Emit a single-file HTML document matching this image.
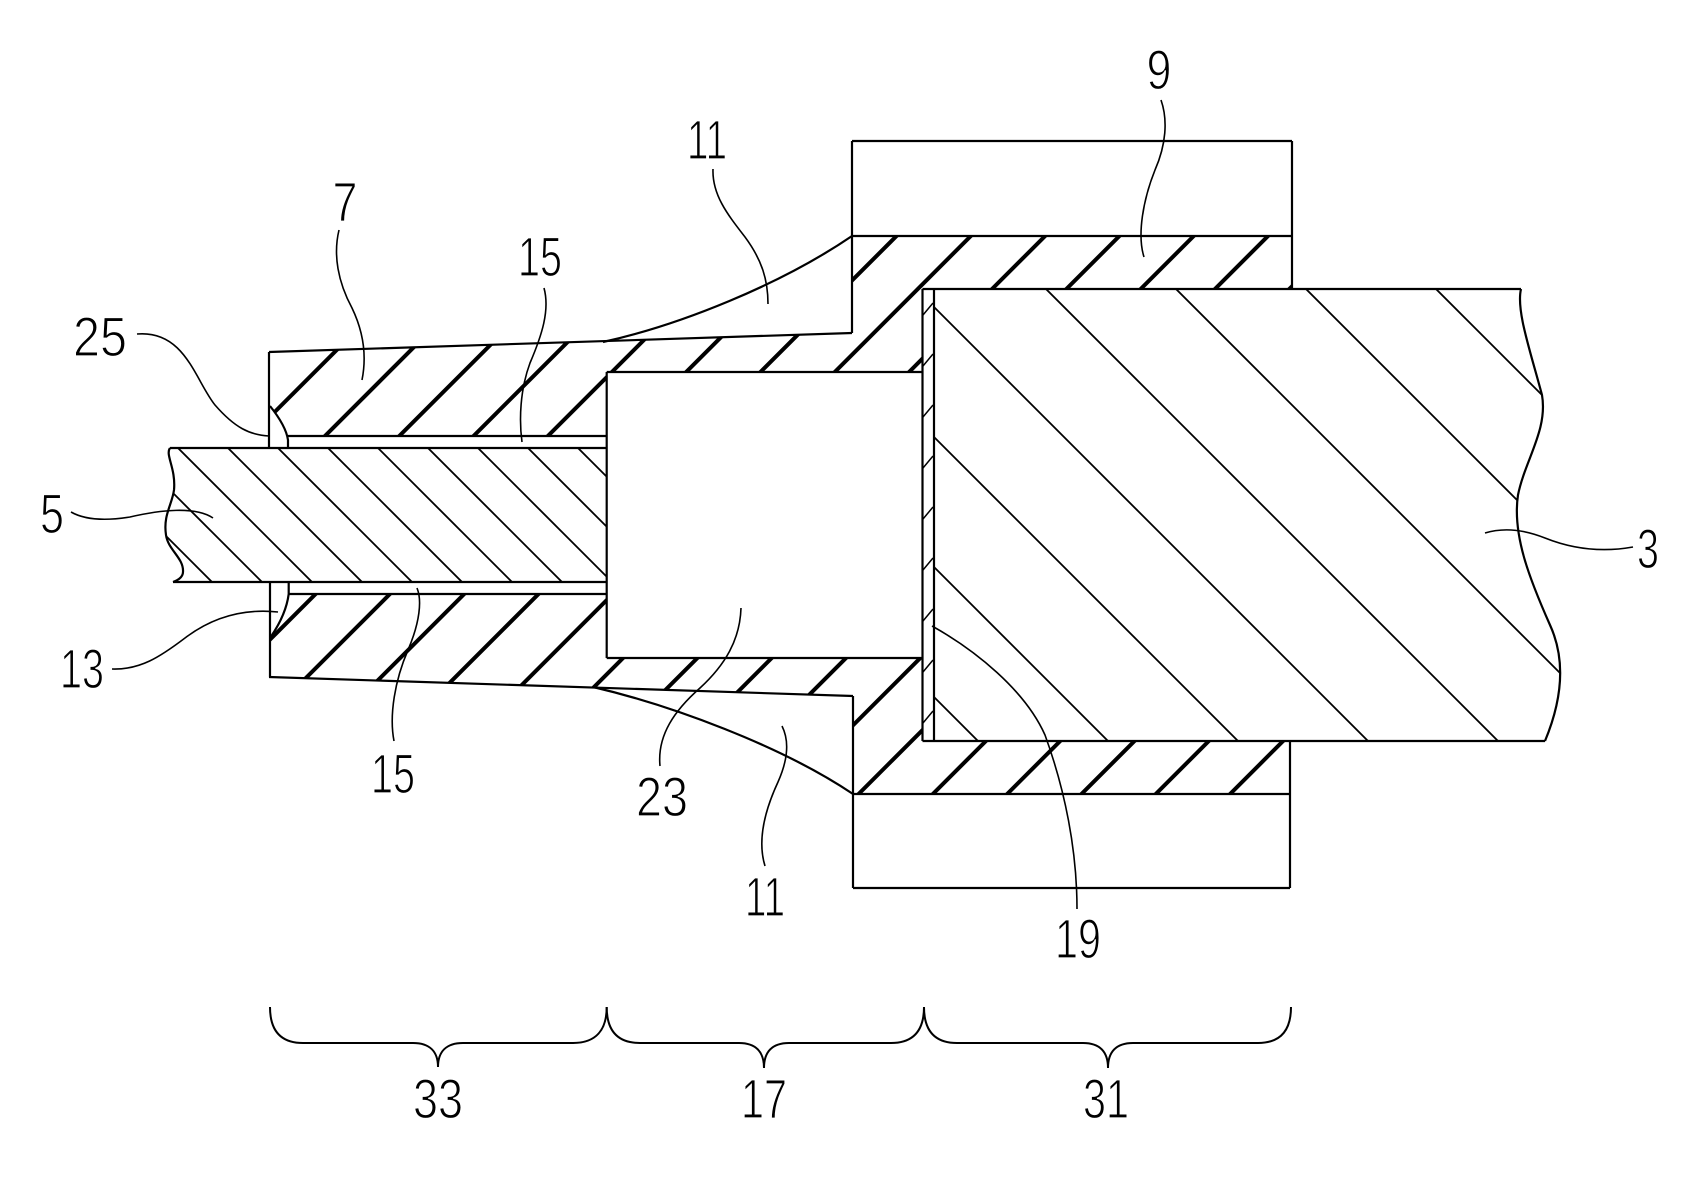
<!DOCTYPE html>
<html>
<head>
<meta charset="utf-8">
<style>
  html, body { margin: 0; padding: 0; background: #fff; }
  body { width: 1698px; height: 1182px; overflow: hidden; }
  svg { display: block; }
  text { font-family: "Liberation Sans", "DejaVu Sans", sans-serif; font-size: 56px; fill: #000; stroke: #fff; stroke-width: 1.3px; }
</style>
</head>
<body>
<svg width="1698" height="1182" viewBox="0 0 1698 1182" xmlns="http://www.w3.org/2000/svg">
  <defs>
    <clipPath id="ins">
      <path d="M269,352 L852,333 L852,236 L1292,236 L1292,289 L922.5,289 L922.5,372 L606.7,372 L606.7,436 L288,436 Q286,426 270,406 L269,406 Z"/>
      <path d="M269,677 L853,696 L853,794 L1290,794 L1290,741 L922.5,741 L922.5,658 L606.7,658 L606.7,594 L288.7,594 Q286,615 270,638 Z"/>
    </clipPath>
    <clipPath id="c3">
      <path d="M934,289 L1521,289 C1516,310 1530,350 1542,395 C1548,430 1525,460 1518,495 C1512,535 1530,580 1550,625 C1566,660 1562,700 1545,741 L934,741 Z"/>
    </clipPath>
    <clipPath id="c5">
      <path d="M170,448 L606.7,448 L606.7,582 L173,582 C176,581 183,578 183,572 C184,558 168,550 166,535 C163,515 172,505 174,490 C176,468 165,455 170,448 Z"/>
    </clipPath>
  </defs>

  <rect width="1698" height="1182" fill="#fff"/>

  <!-- insulation thick hatching -->
  <g clip-path="url(#ins)" stroke="#000" stroke-width="4" fill="none">
    <line x1="586.7" y1="100" x2="-213.3" y2="900"/>
    <line x1="661" y1="100" x2="-139" y2="900"/>
    <line x1="735.3" y1="100" x2="-64.7" y2="900"/>
    <line x1="809.6" y1="100" x2="9.6" y2="900"/>
    <line x1="883.9" y1="100" x2="83.9" y2="900"/>
    <line x1="958.2" y1="100" x2="158.2" y2="900"/>
    <line x1="1032.5" y1="100" x2="232.5" y2="900"/>
    <line x1="1106.8" y1="100" x2="306.8" y2="900"/>
    <line x1="1181.1" y1="100" x2="381.1" y2="900"/>
    <line x1="1255.4" y1="100" x2="455.4" y2="900"/>
    <line x1="1329.7" y1="100" x2="529.7" y2="900"/>
    <line x1="1404" y1="100" x2="604" y2="900"/>
    <line x1="1478.3" y1="100" x2="678.3" y2="900"/>
    <line x1="1552.6" y1="100" x2="752.6" y2="900"/>
    <line x1="1626.9" y1="100" x2="826.9" y2="900"/>
    <line x1="1701.2" y1="100" x2="901.2" y2="900"/>
    <line x1="1775.5" y1="100" x2="975.5" y2="900"/>
    <line x1="1849.8" y1="100" x2="1049.8" y2="900"/>
    <line x1="1924.1" y1="100" x2="1124.1" y2="900"/>
  </g>

  <!-- conductor 3 hatching -->
  <g clip-path="url(#c3)" stroke="#000" stroke-width="1.8" fill="none">
    <line x1="437" y1="200" x2="1037" y2="800"/>
    <line x1="567" y1="200" x2="1167" y2="800"/>
    <line x1="697" y1="200" x2="1297" y2="800"/>
    <line x1="827" y1="200" x2="1427" y2="800"/>
    <line x1="957" y1="200" x2="1557" y2="800"/>
    <line x1="1087" y1="200" x2="1687" y2="800"/>
    <line x1="1217" y1="200" x2="1817" y2="800"/>
    <line x1="1347" y1="200" x2="1947" y2="800"/>
  </g>

  <!-- conductor 5 hatching -->
  <g clip-path="url(#c5)" stroke="#000" stroke-width="1.8" fill="none">
    <line x1="30" y1="400" x2="280" y2="650"/>
    <line x1="80" y1="400" x2="330" y2="650"/>
    <line x1="130" y1="400" x2="380" y2="650"/>
    <line x1="180" y1="400" x2="430" y2="650"/>
    <line x1="230" y1="400" x2="480" y2="650"/>
    <line x1="280" y1="400" x2="530" y2="650"/>
    <line x1="330" y1="400" x2="580" y2="650"/>
    <line x1="380" y1="400" x2="630" y2="650"/>
    <line x1="430" y1="400" x2="680" y2="650"/>
    <line x1="480" y1="400" x2="730" y2="650"/>
    <line x1="530" y1="400" x2="780" y2="650"/>
  </g>

  <!-- layer 19 ticks -->
  <g stroke="#000" stroke-width="1.5" fill="none">
    <line x1="923" y1="315" x2="933" y2="303"/>
    <line x1="923" y1="366" x2="933" y2="354"/>
    <line x1="923" y1="417" x2="933" y2="405"/>
    <line x1="923" y1="468" x2="933" y2="456"/>
    <line x1="923" y1="519" x2="933" y2="507"/>
    <line x1="923" y1="570" x2="933" y2="558"/>
    <line x1="923" y1="621" x2="933" y2="609"/>
    <line x1="923" y1="672" x2="933" y2="660"/>
    <line x1="923" y1="723" x2="933" y2="711"/>
  </g>

  <!-- outlines -->
  <g stroke="#000" stroke-width="2.2" fill="none" stroke-linejoin="miter">
    <line x1="269" y1="352" x2="852" y2="333"/>
    <line x1="269" y1="677" x2="853" y2="696"/>
    <line x1="269" y1="352" x2="269" y2="448"/>
    <line x1="270" y1="582" x2="270" y2="677"/>
    <path d="M270,406 Q286,426 288,440 L288,448"/>
    <path d="M288.7,582 L288.7,594 Q286,615 270,638"/>
    <line x1="288" y1="436" x2="606.7" y2="436"/>
    <line x1="288.7" y1="594" x2="606.7" y2="594"/>
    <line x1="170" y1="448" x2="606.7" y2="448"/>
    <line x1="173" y1="582" x2="606.7" y2="582"/>
    <path d="M170,448 C165,455 176,468 174,490 C172,505 163,515 166,535 C168,550 184,558 183,572 C183,578 176,581 173,582"/>
    <line x1="606.7" y1="372" x2="922.5" y2="372"/>
    <line x1="606.7" y1="372" x2="606.7" y2="658"/>
    <line x1="606.7" y1="658" x2="922.5" y2="658"/>
    <line x1="852" y1="141" x2="852" y2="333"/>
    <line x1="852" y1="141" x2="1292" y2="141"/>
    <line x1="1292" y1="141" x2="1292" y2="289"/>
    <line x1="852" y1="236" x2="1292" y2="236"/>
    <line x1="853" y1="696" x2="853" y2="888"/>
    <line x1="853" y1="888" x2="1290" y2="888"/>
    <line x1="1290" y1="741" x2="1290" y2="888"/>
    <line x1="853" y1="794" x2="1290" y2="794"/>
    <line x1="922.5" y1="289" x2="922.5" y2="741"/>
    <line x1="934" y1="289" x2="934" y2="741"/>
    <line x1="922.5" y1="289" x2="1521" y2="289"/>
    <line x1="922.5" y1="741" x2="1545" y2="741"/>
    <path d="M1521,289 C1516,310 1530,350 1542,395 C1548,430 1525,460 1518,495 C1512,535 1530,580 1550,625 C1566,660 1562,700 1545,741"/>
    <path d="M603,342 C680,325 780,285 852,236"/>
    <path d="M593,687 C670,705 780,745 853,794"/>
  </g>

  <!-- leaders -->
  <g stroke="#000" stroke-width="1.6" fill="none">
    <path d="M137,334 C185,330 195,380 215,405 C235,428 250,435 269,436"/>
    <path d="M339,230 C333,255 338,282 352,308 C365,335 366,360 362,380"/>
    <path d="M544,288 C550,310 542,335 530,363 C520,390 519,420 522,442"/>
    <path d="M71,512 C85,520 105,521 130,517 C160,510 195,506 213,518"/>
    <path d="M112,669 C140,670 160,657 185,638 C210,619 240,608 278,612"/>
    <path d="M394,741 C389,715 395,680 408,650 C420,622 422,600 417,588"/>
    <path d="M713,169 C712,195 728,215 745,237 C762,260 768,280 768,304"/>
    <path d="M765,866 C757,840 765,810 778,782 C790,755 788,738 782,726"/>
    <path d="M660,766 C657,735 675,710 700,688 C725,665 740,640 741,608"/>
    <path d="M1161,100 C1168,120 1166,145 1155,170 C1143,200 1137,235 1144,257"/>
    <path d="M1485,533 C1505,527 1525,530 1545,538 C1575,550 1605,552 1633,547"/>
    <path d="M932,626 C975,650 1025,690 1045,735 C1065,790 1077,850 1077,909"/>
  </g>

  <!-- braces -->
  <g stroke="#000" stroke-width="2" fill="none">
    <path d="M270,1007 C270,1030 280,1043 303,1043 L413,1043 C430,1043 438,1052 438,1067 C438,1052 446,1043 463,1043 L573,1043 C596,1043 606.7,1030 606.7,1007"/>
    <path d="M606.7,1007 C606.7,1030 617,1043 640,1043 L739,1043 C756,1043 764,1052 764,1068 C764,1052 772,1043 789,1043 L891,1043 C914,1043 924,1030 924,1007"/>
    <path d="M924,1007 C924,1030 934,1043 957,1043 L1083,1043 C1100,1043 1108,1052 1108,1068 C1108,1052 1116,1043 1133,1043 L1258,1043 C1281,1043 1291,1030 1291,1007"/>
  </g>

  <!-- labels -->
  <text x="345" y="221" text-anchor="middle" textLength="25" lengthAdjust="spacingAndGlyphs">7</text>
  <text x="540" y="276" text-anchor="middle" textLength="44" lengthAdjust="spacingAndGlyphs">15</text>
  <text x="100" y="356" text-anchor="middle" textLength="54" lengthAdjust="spacingAndGlyphs">25</text>
  <text x="707" y="159" text-anchor="middle" textLength="40" lengthAdjust="spacingAndGlyphs">11</text>
  <text x="1159" y="89" text-anchor="middle" textLength="25" lengthAdjust="spacingAndGlyphs">9</text>
  <text x="52" y="533" text-anchor="middle" textLength="24" lengthAdjust="spacingAndGlyphs">5</text>
  <text x="82" y="688" text-anchor="middle" textLength="44" lengthAdjust="spacingAndGlyphs">13</text>
  <text x="393" y="793" text-anchor="middle" textLength="44" lengthAdjust="spacingAndGlyphs">15</text>
  <text x="662" y="816" text-anchor="middle" textLength="52" lengthAdjust="spacingAndGlyphs">23</text>
  <text x="765" y="916" text-anchor="middle" textLength="40" lengthAdjust="spacingAndGlyphs">11</text>
  <text x="1078" y="958" text-anchor="middle" textLength="46" lengthAdjust="spacingAndGlyphs">19</text>
  <text x="1648" y="568" text-anchor="middle" textLength="22" lengthAdjust="spacingAndGlyphs">3</text>
  <text x="438" y="1118" text-anchor="middle" textLength="50" lengthAdjust="spacingAndGlyphs">33</text>
  <text x="764" y="1118" text-anchor="middle" textLength="46" lengthAdjust="spacingAndGlyphs">17</text>
  <text x="1106" y="1118" text-anchor="middle" textLength="46" lengthAdjust="spacingAndGlyphs">31</text>
</svg>
</body>
</html>
